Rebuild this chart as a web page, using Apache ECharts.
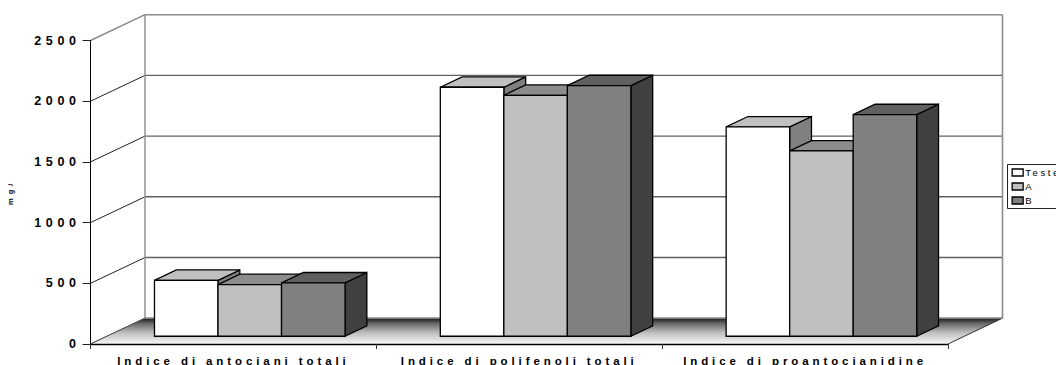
<!DOCTYPE html>
<html>
<head>
<meta charset="utf-8">
<style>
  html, body { margin: 0; padding: 0; background: #fff; overflow: hidden; }
  #chart { width: 1056px; height: 365px; }
  /* widely tracked lettering, keyed on each text group's font size */
  svg text[style*="12.5px"] { letter-spacing: 4.6px; }
  svg text[style*="11.5px"] { letter-spacing: 3.9px; }
  svg text[style*="9.5px"] { letter-spacing: 2.6px; }
  svg text[style*="7.5px"] { letter-spacing: 4px; }
</style>
<script src="https://cdn.jsdelivr.net/npm/echarts@6/dist/echarts.min.js"></script>
</head>
<body>
<div id="chart"></div>
<script>
const categories = ['Indice di antociani totali', 'Indice di polifenoli totali', 'Indice di proantocianidine'];
const seriesNames = ['Teste', 'A', 'B'];
const testeValues = [461, 2051, 1725];
const aValues = [426, 1985, 1527];
const bValues = [440, 2065, 1826];
const yTicks = [0, 500, 1000, 1500, 2000, 2500];
const yAxisName = 'mg/';

// Oblique projection: how far the back wall sits from the front plane, in pixels.
const DEPTH_X = 54.5;
const DEPTH_Y = 25.8;
// Bars occupy this slice of the floor's depth.
const BAR_NEAR = 0.3;
const BAR_FAR = 0.7;
// Three touching bars plus a half-bar-and-a-quarter gap on each side.
const BAND_IN_BARS = 4.5;

// front, top and side shades for each series
const shades = [
  { front: '#ffffff', top: '#c0c0c0', side: '#808080' },
  { front: '#c0c0c0', top: '#8c8c8c', side: '#606060' },
  { front: '#808080', top: '#606060', side: '#404040' }
];

const chart = echarts.init(document.getElementById('chart'), null, { renderer: 'svg' });

function poly(points, fill, stroke, lineWidth) {
  return {
    type: 'polygon',
    shape: { points },
    style: { fill, stroke, lineWidth, lineJoin: 'miter' },
    silent: true
  };
}

function renderBar(slot) {
  return function (params, api) {
    const cat = api.value(0);
    const base = api.coord([cat, 0]);
    const head = api.coord([cat, api.value(1)]);
    const barW = api.size([1, 0])[0] / BAND_IN_BARS;
    const x0 = base[0] - 1.5 * barW + slot * barW + BAR_NEAR * DEPTH_X;
    const x1 = x0 + barW;
    const yB = base[1] - BAR_NEAR * DEPTH_Y;
    const yT = head[1] - BAR_NEAR * DEPTH_Y;
    const dx = (BAR_FAR - BAR_NEAR) * DEPTH_X;
    const dy = (BAR_FAR - BAR_NEAR) * DEPTH_Y;
    const c = shades[slot];
    return {
      type: 'group',
      children: [
        poly([[x1, yB], [x1 + dx, yB - dy], [x1 + dx, yT - dy], [x1, yT]], c.side, '#000', 1.3),
        poly([[x0, yT], [x0 + dx, yT - dy], [x1 + dx, yT - dy], [x1, yT]], c.top, '#000', 1.3),
        poly([[x0, yB], [x0, yT], [x1, yT], [x1, yB]], c.front, '#000', 1.3)
      ]
    };
  };
}

// Gridlines run across the left wall and then along the back wall.
function renderGridline(params, api) {
  const tick = api.value(1);
  const p = api.coord([0, tick]);
  const sys = params.coordSys;
  const edge = tick === 2500;
  const backY = p[1] - DEPTH_Y;
  return {
    type: 'group',
    children: [
      {
        type: 'line', silent: true,
        shape: { x1: sys.x, y1: p[1], x2: sys.x + DEPTH_X, y2: backY },
        style: { stroke: edge ? '#8a8a8a' : '#222', lineWidth: edge ? 1.4 : 1 }
      },
      {
        type: 'line', silent: true,
        shape: { x1: sys.x + DEPTH_X, y1: backY, x2: sys.x + sys.width + DEPTH_X, y2: backY },
        style: { stroke: edge ? '#8c8c8c' : '#606060', lineWidth: 1.4 }
      }
    ]
  };
}

// Back wall outline plus the shaded floor.
function renderRoom(params, api) {
  const sys = params.coordSys;
  const bottom = api.coord([0, yTicks[0]])[1];
  const top = api.coord([0, yTicks[yTicks.length - 1]])[1];
  const left = sys.x;
  const right = sys.x + sys.width;
  return {
    type: 'group',
    children: [
      {
        type: 'polyline', silent: true,
        shape: { points: [[left + DEPTH_X, bottom - DEPTH_Y], [left + DEPTH_X, top - DEPTH_Y]] },
        style: { stroke: '#8c8c8c', lineWidth: 1.4, fill: 'none' }
      },
      {
        type: 'polyline', silent: true,
        shape: { points: [[right + DEPTH_X, bottom - DEPTH_Y], [right + DEPTH_X, top - DEPTH_Y]] },
        style: { stroke: '#8c8c8c', lineWidth: 1.6, fill: 'none' }
      },
      {
        type: 'polygon', silent: true,
        shape: { points: [[left, bottom], [left + DEPTH_X, bottom - DEPTH_Y], [right + DEPTH_X, bottom - DEPTH_Y], [right, bottom]] },
        style: {
          fill: {
            type: 'linear', x: 0, y: 0, x2: 0, y2: 1,
            colorStops: [
              { offset: 0, color: '#181818' },
              { offset: 0.2, color: '#666666' },
              { offset: 0.55, color: '#bcbcbc' },
              { offset: 1, color: '#f8f8f8' }
            ]
          }
        }
      },
      {
        type: 'line', silent: true,
        shape: { x1: left, y1: bottom, x2: left + DEPTH_X, y2: bottom - DEPTH_Y },
        style: { stroke: '#555', lineWidth: 1 }
      },
      {
        type: 'line', silent: true,
        shape: { x1: right, y1: bottom, x2: right + DEPTH_X, y2: bottom - DEPTH_Y },
        style: { stroke: '#333', lineWidth: 1 }
      },
      {
        type: 'line', silent: true,
        shape: { x1: left + DEPTH_X, y1: bottom - DEPTH_Y, x2: right + DEPTH_X, y2: bottom - DEPTH_Y },
        style: { stroke: '#9a9a9a', lineWidth: 1.2 }
      }
    ]
  };
}

function barSeries(name, values, slot) {
  return {
    name,
    type: 'custom',
    renderItem: renderBar(slot),
    data: values.map((v, i) => [i, v]),
    encode: { x: 0, y: 1 },
    itemStyle: { color: shades[slot].front },
    z: 5 + slot,
    silent: true
  };
}

chart.setOption({
  animation: false,
  backgroundColor: '#ffffff',
  grid: { left: 90.5, right: 108, top: 40.5, bottom: 21, outerBoundsMode: 'none' },
  xAxis: {
    type: 'category',
    data: categories,
    axisLine: { lineStyle: { color: '#000', width: 1.3 } },
    axisTick: { show: true, alignWithLabel: false, length: 5, lineStyle: { color: '#333', width: 1 } },
    axisLabel: {
      interval: 0, margin: 10.5,
      fontFamily: 'Liberation Sans', fontWeight: 'bold', fontSize: 11.5, color: '#000'
    },
    splitLine: { show: false },
    z: 3
  },
  yAxis: {
    type: 'value',
    min: 0,
    max: 2500,
    interval: 500,
    name: yAxisName,
    nameLocation: 'middle',
    nameRotate: 90,
    nameGap: 76,
    nameTextStyle: { fontFamily: 'Liberation Sans', fontWeight: 'bold', fontSize: 7.5, color: '#000' },
    axisLine: { show: true, lineStyle: { color: '#000', width: 1 } },
    axisTick: { show: true, length: 8, lineStyle: { color: '#222', width: 1 } },
    axisLabel: {
      margin: 10,
      formatter: value => String(value),
      fontFamily: 'Liberation Sans', fontWeight: 'bold', fontSize: 12.5, color: '#000'
    },
    splitLine: { show: false },
    z: 3
  },
  legend: {
    left: 1007.5,
    top: 164.5,
    orient: 'vertical',
    data: seriesNames,
    icon: 'rect',
    itemWidth: 11,
    itemHeight: 7,
    itemGap: 4,
    padding: [3, 30, 3, 4],
    borderColor: '#222',
    borderWidth: 1,
    itemStyle: { borderColor: '#000', borderWidth: 1.3 },
    textStyle: { fontFamily: 'Liberation Sans', fontSize: 9.5, color: '#000', padding: [0, 0, 0, -3] },
    selectedMode: false
  },
  tooltip: { show: false },
  series: [
    {
      type: 'custom', renderItem: renderGridline, silent: true, z: 1,
      data: yTicks.map(t => [0, t]), encode: { x: 0, y: 1 }
    },
    {
      type: 'custom', renderItem: renderRoom, silent: true, z: 2,
      data: [[0, 0]], encode: { x: 0, y: 1 }
    },
    barSeries(seriesNames[0], testeValues, 0),
    barSeries(seriesNames[1], aValues, 1),
    barSeries(seriesNames[2], bValues, 2)
  ]
});
</script>
</body>
</html>
